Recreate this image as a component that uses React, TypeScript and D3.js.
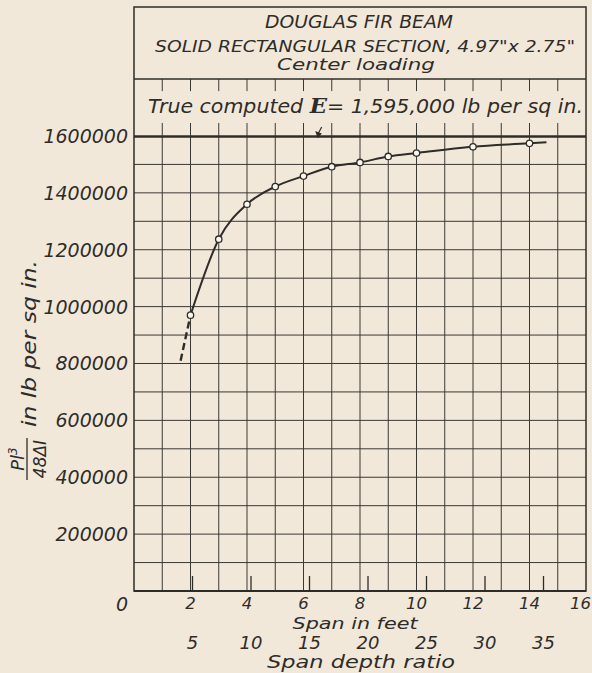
import React from 'react';
import * as d3 from 'd3';

// ---- data ----
const spanFeet = [2, 3, 4, 5, 6, 7, 8, 9, 10, 12, 14];
const eValues = [970000, 1237000, 1360000, 1422000, 1459000, 1492000, 1507000, 1528000, 1540000, 1562000, 1574000];
const curveEndFeet = [14.6];
const curveEndValues = [1578000];
const dashFeet = [1.65, 2];
const dashValues = [810000, 970000];
const trueE = [1595000];
const yTickValues = [200000, 400000, 600000, 800000, 1000000, 1200000, 1400000, 1600000];
const xTickValues = [2, 4, 6, 8, 10, 12, 14, 16];
const ratioTickValues = [5, 10, 15, 20, 25, 30, 35];
const beamDepthIn = [4.97];
const titleLines = ['DOUGLAS FIR BEAM', 'SOLID RECTANGULAR SECTION, 4.97"x 2.75"', 'Center loading'];

const W = 592;
const H = 673;
const FONT = '"DejaVu Sans", sans-serif';
const INK = '#2e2c29';
const PAPER = '#f2e8da';

export default function App() {
  const x = d3.scaleLinear().domain([0, 16]).range([134, 586]);
  const y = d3.scaleLinear().domain([0, 1800000]).range([591, 79.1]);

  const gridFeet = d3.range(1, 16);
  const gridE = d3.range(100000, 1600000, 100000);

  const pts: [number, number][] = spanFeet.map((f, i) => [f, eValues[i]]);
  const curvePts: [number, number][] = pts.concat(curveEndFeet.map((f, i) => [f, curveEndValues[i]] as [number, number]));
  const line = d3
    .line<[number, number]>()
    .x((d) => x(d[0]))
    .y((d) => y(d[1]))
    .curve(d3.curveMonotoneX);
  const dashPts: [number, number][] = dashFeet.map((f, i) => [f, dashValues[i]]);

  const ratioToFeet = (r: number) => (r * beamDepthIn[0]) / 12;

  const txt = {
    fontFamily: FONT,
    fontStyle: 'italic' as const,
    fill: INK,
  };

  return (
    <svg
      width={W}
      height={H}
      style={{ position: 'absolute', left: 0, top: 0 }}
      xmlns="http://www.w3.org/2000/svg"
    >
      <rect x={0} y={0} width={W} height={H} fill={PAPER} />

      {/* grid */}
      <g stroke="#3a3834" strokeWidth={1}>
        {gridFeet.map((f) => (
          <line key={'v' + f} x1={x(f)} x2={x(f)} y1={y(0)} y2={y(1600000)} />
        ))}
        {gridE.map((e) => (
          <line key={'h' + e} x1={x(0)} x2={x(16)} y1={y(e)} y2={y(e)} />
        ))}
        {/* short ticks in the upper band */}
        {gridFeet.map((f) => (
          <g key={'t' + f}>
            <line x1={x(f)} x2={x(f)} y1={y(1800000)} y2={y(1800000) + 12} />
            <line x1={x(f)} x2={x(f)} y1={y(1600000) - 13} y2={y(1600000)} />
          </g>
        ))}
        <line x1={x(0)} x2={x(16)} y1={y(1600000)} y2={y(1600000)} strokeWidth={1.2} />
      </g>

      {/* true E line */}
      {trueE.map((e) => (
        <line key={'e' + e} x1={x(0)} x2={x(16)} y1={y(e) - 0.8} y2={y(e) - 0.8} stroke={INK} strokeWidth={2.2} />
      ))}

      {/* frame */}
      <g stroke={INK} strokeWidth={1.5} fill="none">
        <rect x={x(0)} y={7} width={x(16) - x(0)} height={y(0) - 7} />
        <line x1={x(0)} x2={x(16)} y1={y(1800000)} y2={y(1800000)} />
        <line x1={x(0)} x2={x(16)} y1={y(0)} y2={y(0)} strokeWidth={1.8} />
      </g>

      {/* span/depth ratio ticks */}
      <g stroke={INK} strokeWidth={1.3}>
        {ratioTickValues.map((r) => (
          <line key={'r' + r} x1={x(ratioToFeet(r))} x2={x(ratioToFeet(r))} y1={y(0) - 15} y2={y(0)} />
        ))}
      </g>

      {/* dashed extension */}
      <path d={line(dashPts) || ''} fill="none" stroke={INK} strokeWidth={2.4} strokeDasharray="7,4" />

      {/* curve */}
      <path d={line(curvePts) || ''} fill="none" stroke={INK} strokeWidth={2} />

      {/* points */}
      {pts.map((p, i) => (
        <circle key={'c' + i} cx={x(p[0])} cy={y(p[1])} r={3.2} fill="#fbf7f0" stroke={INK} strokeWidth={1.3} />
      ))}

      {/* arrow */}
      <g stroke={INK} strokeWidth={1.2} fill={INK}>
        <line x1={321.7} y1={127} x2={318.5} y2={133} />
        <path d="M316.2,132 L320.8,133.8 L318,137 Z" />
      </g>

      {/* title */}
      <text {...txt} x={359} y={28} fontSize={17} textAnchor="middle" textLength={188} lengthAdjust="spacingAndGlyphs">
        {titleLines[0]}
      </text>
      <text {...txt} x={365} y={52} fontSize={16} textAnchor="middle" textLength={420} lengthAdjust="spacingAndGlyphs">
        {titleLines[1]}
      </text>
      <text {...txt} x={356} y={70} fontSize={15.5} textAnchor="middle" textLength={158} lengthAdjust="spacingAndGlyphs">
        {titleLines[2]}
      </text>

      <text {...txt} x={148} y={113} fontSize={19} textLength={435} lengthAdjust="spacingAndGlyphs">
        True computed{' '}
        <tspan fontFamily='"DejaVu Serif", serif' fontWeight="bold" fontSize={21}>E</tspan>
        = 1,595,000 lb per sq in.
      </text>

      {/* y tick labels */}
      {yTickValues.map((v) => (
        <text key={'yl' + v} {...txt} x={128} y={y(v) + 7} fontSize={19} textAnchor="end">
          {String(v)}
        </text>
      ))}
      <text {...txt} x={128} y={611} fontSize={19} textAnchor="end">0</text>

      {/* x tick labels */}
      {xTickValues.map((v) => (
        <text
          key={'xl' + v}
          {...txt}
          x={v === 16 ? 591 : x(v)}
          y={609}
          fontSize={16.5}
          textAnchor={v === 16 ? 'end' : 'middle'}
        >
          {String(v)}
        </text>
      ))}
      <text {...txt} x={355} y={629} fontSize={16} textAnchor="middle" textLength={125} lengthAdjust="spacingAndGlyphs">
        Span in feet
      </text>

      {ratioTickValues.map((r) => (
        <text key={'rl' + r} {...txt} x={x(ratioToFeet(r))} y={649} fontSize={18} textAnchor="middle">
          {String(r)}
        </text>
      ))}
      <text {...txt} x={361} y={668} fontSize={18} textAnchor="middle" textLength={188} lengthAdjust="spacingAndGlyphs">
        Span depth ratio
      </text>

      {/* y axis title */}
      <g transform="translate(27,459) rotate(-90)">
        <text {...txt} x={0} y={-3} fontSize={18} textAnchor="middle">
          Pl<tspan fontSize={12} dy={-7}>3</tspan>
        </text>
        <line x1={-21} x2={21} y1={0} y2={0} stroke={INK} strokeWidth={1.3} />
        <text {...txt} x={0} y={19} fontSize={17} textAnchor="middle">48ΔI</text>
        <text {...txt} x={32} y={9} fontSize={19} textLength={167} lengthAdjust="spacingAndGlyphs">
          in lb per sq in.
        </text>
      </g>
    </svg>
  );
}
